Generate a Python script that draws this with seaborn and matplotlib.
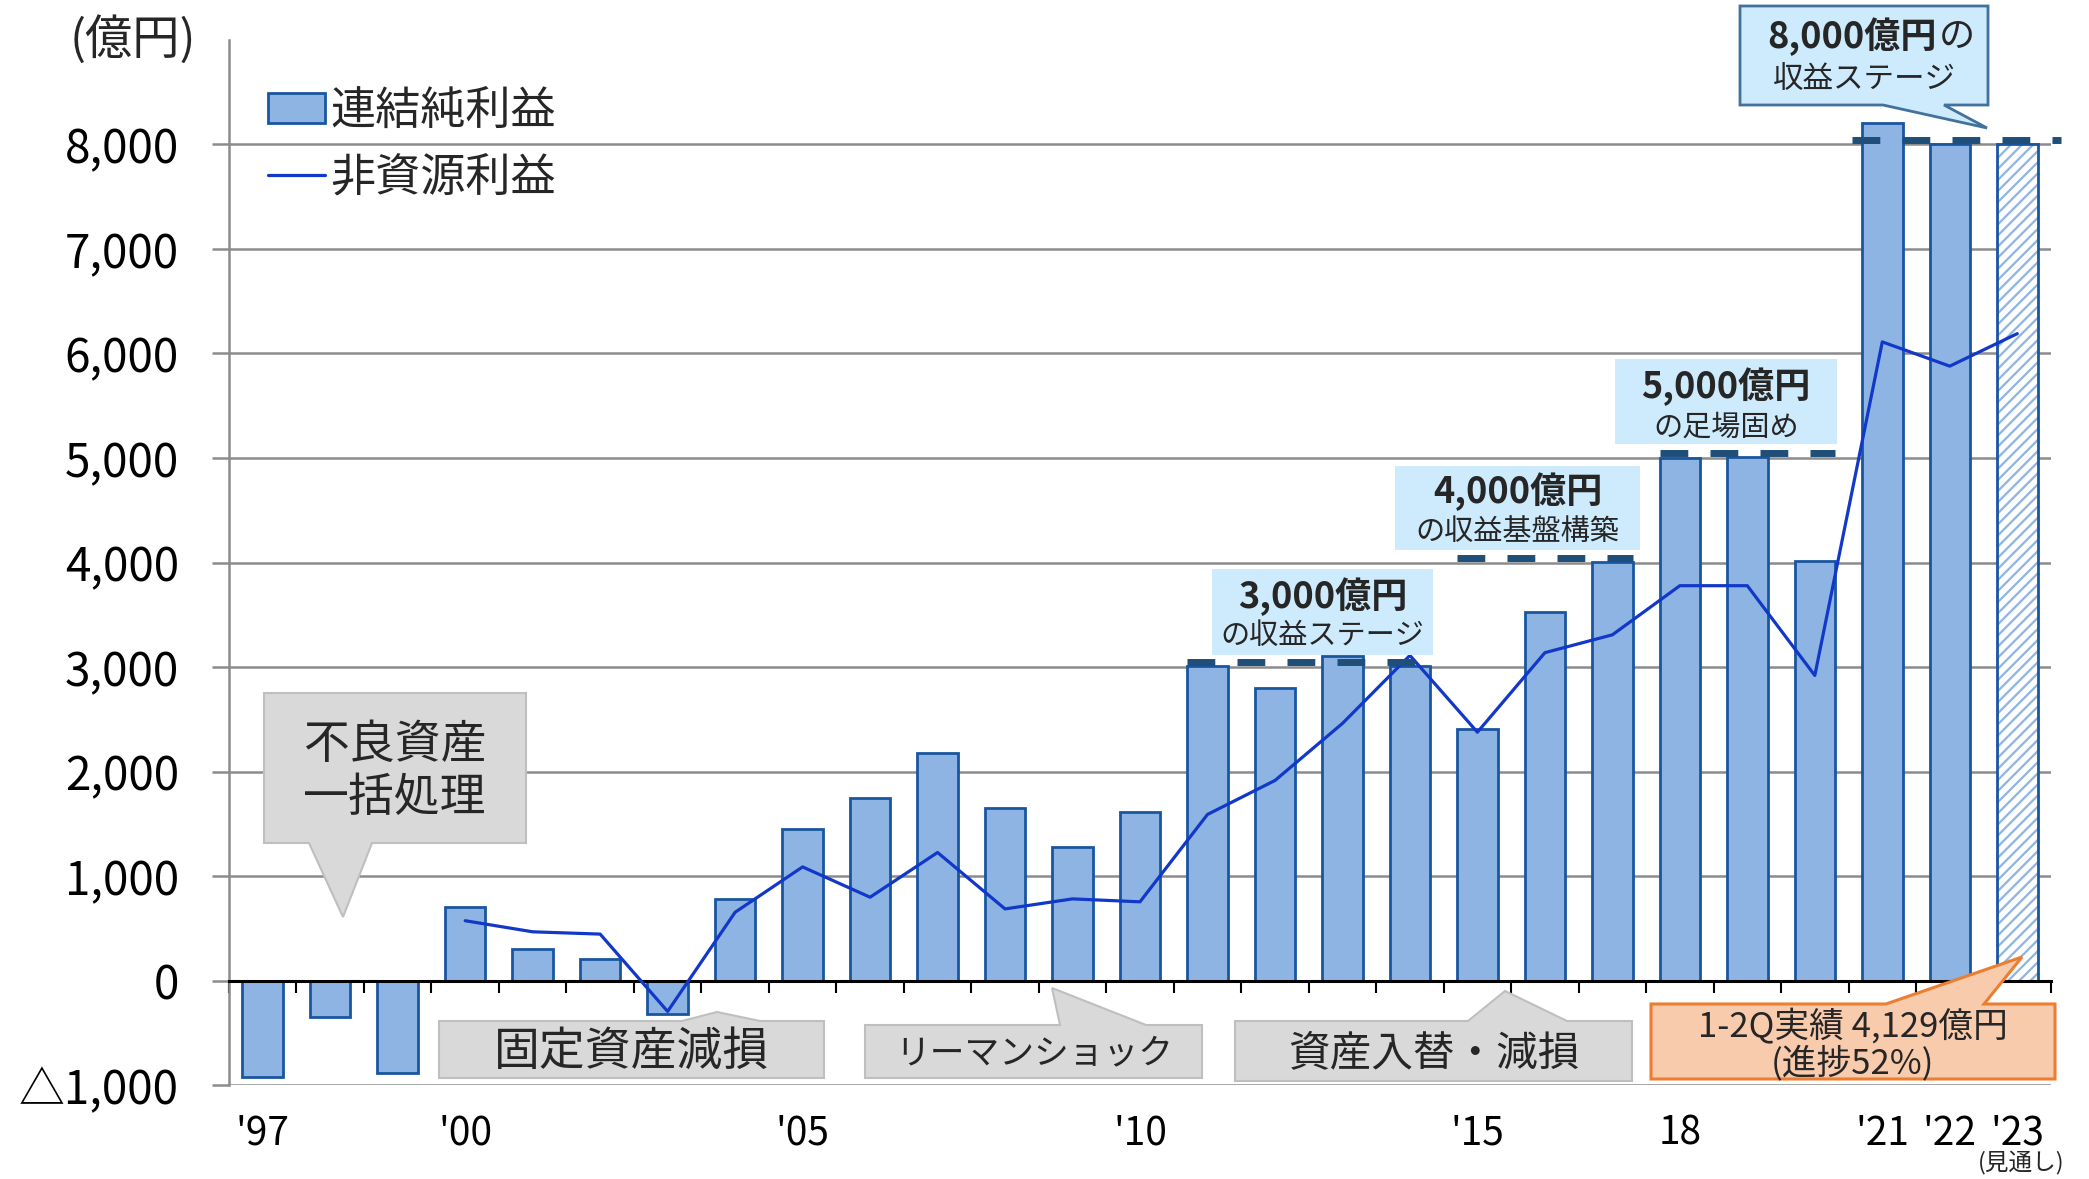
import numpy as np
import pandas as pd
import matplotlib
matplotlib.use("Agg")
import matplotlib.pyplot as plt
import matplotlib.transforms as mtransforms
from matplotlib.patches import Rectangle, Polygon, Patch
from matplotlib.lines import Line2D
import seaborn as sns

# ---------------- data ----------------
years = list(range(1997, 2024))
net_profit = [-920, -345, -885, 705, 302, 202, -320, 778, 1446, 1751, 2174,
              1654, 1281, 1610, 3005, 2802, 3103, 3006, 2404, 3522, 4003,
              5003, 5013, 4015, 8203, 8005, 8000]
line_years = list(range(2000, 2024))
non_resource = [572, 466, 444, -296, 653, 1087, 797, 1225, 685, 781, 753,
                1589, 1914, 2460, 3111, 2376, 3137, 3308, 3778, 3778, 2919,
                6111, 5879, 6190]
forecast_year = 2023

xtick_years = [1997, 2000, 2005, 2010, 2015, 2018, 2021, 2022, 2023]
xtick_labels = ["'97", "'00", "'05", "'10", "'15", "18", "'21", "'22", "'23"]
ytick_values = list(range(-1000, 9000, 1000))
ytick_labels = ["△1,000"] + [f"{v:,}" for v in ytick_values[1:]]

legend_labels = ["連結純利益", "非資源利益"]
unit_label = "(億円)"

# target stage levels: (level, first year, last year)
targets = [(3000, 2011, 2014), (4000, 2015, 2017), (5000, 2018, 2020), (8000, 2021, 2023)]

# ---------------- style ----------------
BAR = "#8eb4e3"
EDGE = "#1a56a0"
LINE = "#1238c9"
GRID = "#8c8c8c"
TGT = "#1f4e79"
LBLUE = "#cdebfc"
GRAYF = "#d9d9d9"
GRAYE = "#bfbfbf"

sns.set_theme(style="white")
plt.rcParams["font.family"] = ["Noto Sans CJK JP", "DejaVu Sans"]
plt.rcParams["hatch.linewidth"] = 1.6
plt.rcParams["axes.unicode_minus"] = False

W, H = 2089, 1179
fig = plt.figure(figsize=(W / 100, H / 100), dpi=100)
fig.patch.set_facecolor("white")
ax = fig.add_axes([229 / W, 1 - 1085 / H, (2051 - 229) / W, (1085 - 40) / H])
ax.set_facecolor("white")
# pixel transform (reference image pixels, y downward)
px = mtransforms.Affine2D().scale(1 / W, -1 / H).translate(0, 1) + fig.transFigure

df = pd.DataFrame({"year": years, "profit": net_profit})
sns.barplot(data=df, x="year", y="profit", native_scale=True, width=0.6,
            color=BAR, saturation=1, edgecolor=EDGE, linewidth=2.0, ax=ax,
            zorder=2)
bars = [p for p in ax.patches]
bar_w = bars[0].get_width()

# forecast bar: hatched
proj = max(bars, key=lambda p: p.get_x())
proj.set_facecolor("white")
proj.set_edgecolor(BAR)
proj.set_hatch("///")
proj.set_linewidth(0)
ax.add_patch(Rectangle((proj.get_x(), proj.get_y()), proj.get_width(), proj.get_height(),
                       fill=False, edgecolor=EDGE, linewidth=2.0, zorder=2.5))

sns.lineplot(x=line_years, y=non_resource, color=LINE, linewidth=2.3, ax=ax,
             zorder=4, legend=False)

ax.set_xlim(1996.5, 2023.5)
ax.set_ylim(-1000, 9000)
ax.set_xlabel("")
ax.set_ylabel("")

# spines
for s in ["top", "right"]:
    ax.spines[s].set_visible(False)
ax.spines["left"].set_color(GRID)
ax.spines["left"].set_linewidth(1.8)
ax.spines["bottom"].set_position(("data", 0))
ax.spines["bottom"].set_color("black")
ax.spines["bottom"].set_linewidth(2.2)
ax.spines["bottom"].set_zorder(3)

# grid
ax.set_axisbelow(True)
ax.yaxis.grid(True, color=GRID, linewidth=1.8)
ax.xaxis.grid(False)

ax.set_yticks(ytick_values)
ax.set_yticklabels(ytick_labels)
ax.tick_params(axis="y", left=True, length=12, width=1.8, color=GRID, pad=24,
               labelsize=33, labelcolor="black")

ax.set_xticks(xtick_years)
ax.set_xticklabels(xtick_labels)
ax.set_xticks(np.arange(1996.5, 2024.0, 1.0), minor=True)
ax.tick_params(axis="x", which="major", length=0, pad=96, labelsize=28, labelcolor="black")
ax.tick_params(axis="x", which="minor", bottom=True, direction="out", length=8.5,
               width=1.5, color="black")

# target dashed lines
for level, y0, y1 in targets:
    x0 = y0 - bar_w / 2
    x1 = y1 + bar_w / 2
    if level == 8000:
        x0 -= 0.15
        x1 += 0.35
    ln = Line2D([x0, x1], [level + 45, level + 45], color=TGT, linewidth=5,
                zorder=5, clip_on=False)
    ln.set_dashes((4.0, 3.2))
    ax.add_line(ln)

# legend
handles = [Patch(facecolor=BAR, edgecolor=EDGE, linewidth=2.0),
           Line2D([], [], color=LINE, linewidth=2.3)]
leg = ax.legend(handles, legend_labels, loc="upper left", bbox_to_anchor=(268, 88),
                bbox_transform=px, frameon=False, fontsize=32.5, handlelength=1.26,
                handleheight=0.66, handletextpad=0.12, labelspacing=0.45,
                borderpad=0, borderaxespad=0)

# unit label
fig.text(133, 40, unit_label, transform=px, fontsize=34, ha="center", va="center")

# ---------- callout helpers ----------
def poly(points, fc, ec, lw=1.5, z=6):
    p = Polygon(points, closed=True, facecolor=fc, edgecolor=ec, linewidth=lw,
                transform=px, zorder=z, clip_on=False)
    fig.add_artist(p)

def txt(x, y, s, size, weight="normal", ha="center", z=7):
    fig.text(x, y, s, transform=px, fontsize=size, fontweight=weight, ha=ha,
             va="center", zorder=z)

# 不良資産一括処理
poly([(264, 693), (526, 693), (526, 843), (372, 843), (343, 917), (309, 843), (264, 843)],
     GRAYF, GRAYE)
txt(395, 745, "不良資産", 33)
txt(395, 798, "一括処理", 33)

# 固定資産減損
poly([(439, 1021), (682, 1021), (717, 1012), (760, 1021), (824, 1021), (824, 1078), (439, 1078)],
     GRAYF, GRAYE)
txt(632, 1052, "固定資産減損", 33)

# リーマンショック
poly([(865, 1025), (1060, 1025), (1052, 988), (1146, 1025), (1202, 1025), (1202, 1078), (865, 1078)],
     GRAYF, GRAYE)
txt(1034, 1054, "リーマンショック", 25)

# 資産入替・減損
poly([(1235, 1021), (1468, 1021), (1505, 991), (1567, 1021), (1632, 1021), (1632, 1081), (1235, 1081)],
     GRAYF, GRAYE)
txt(1434, 1054, "資産入替・減損", 30)

# orange progress box
poly([(1651, 1004), (1886, 1004), (2022, 957), (1984, 1004), (2055, 1004), (2055, 1079), (1651, 1079)],
     "#f8cbad", "#ed7d31", lw=2.2)
txt(1853, 1027, "1-2Q実績 4,129億円", 25)
txt(1853, 1064, "(進捗52%)", 25)

# (見通し)
txt(2021, 1163, "(見通し)", 17)

# light-blue stage labels
def stage_box(x0, x1, y0, y1, l1, l2, y_l1, y_l2):
    fig.add_artist(Rectangle((x0, y1), x1 - x0, y0 - y1, transform=px, facecolor=LBLUE,
                             edgecolor="none", zorder=6, clip_on=False))
    txt((x0 + x1) / 2, y_l1, l1, 26, weight="bold")
    txt((x0 + x1) / 2, y_l2, l2, 21)

stage_box(1212, 1433, 569, 655, "3,000億円", "の収益ステージ", 597, 636)
stage_box(1395, 1640, 466, 550, "4,000億円", "の収益基盤構築", 492, 532)
stage_box(1615, 1837, 359, 444, "5,000億円", "の足場固め", 387, 428)

# 8,000 callout
poly([(1740, 6), (1988, 6), (1988, 105), (1944, 105), (1987, 128), (1883, 105), (1740, 105)],
     LBLUE, "#41719c", lw=2.0)
txt(1937, 37, "8,000億円", 26, weight="bold", ha="right")
txt(1939, 37, "の", 26, ha="left")
txt(1864, 79, "収益ステージ", 22)

fig.savefig("out.png", dpi=100, facecolor="white")
